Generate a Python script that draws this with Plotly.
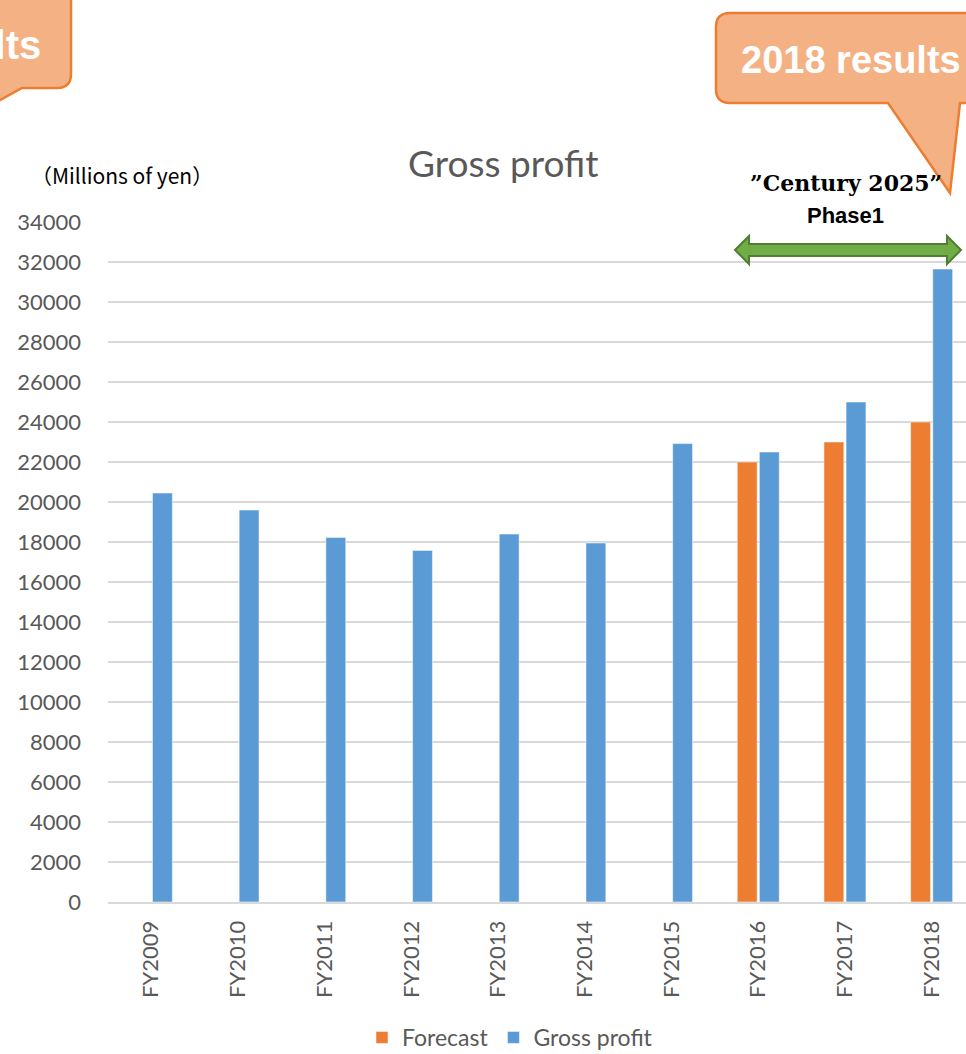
import plotly.graph_objects as go

categories = ["FY2009", "FY2010", "FY2011", "FY2012", "FY2013",
              "FY2014", "FY2015", "FY2016", "FY2017", "FY2018"]
forecast = [None, None, None, None, None, None, None, 22000, 23000, 24000]
gross_profit = [20450, 19600, 18230, 17580, 18400, 17950, 22920, 22500, 25000, 31650]

W, H = 966, 1054
L, R, T, B = 108, 0, 222, 152
PW, PH = W - L - R, H - T - B


def px(x):
    return (x - L) / PW


def py(y):
    return (H - B - y) / PH


def path(cmds):
    out = []
    for cmd, pts in cmds:
        if cmd == "Z":
            out.append("Z")
        elif cmd == "Q":
            out.append("Q " + " ".join(f"{px(a):.5f},{py(b):.5f}" for a, b in pts))
        else:
            for a, b in pts:
                out.append(f"{cmd} {px(a):.5f},{py(b):.5f}")
    return " ".join(out)


fig = go.Figure()
fig.add_trace(go.Bar(x=categories, y=forecast, name="Forecast",
                     marker=dict(color="#ED7D31", line=dict(color="rgba(255,255,255,0.5)", width=1))))
fig.add_trace(go.Bar(x=categories, y=gross_profit, name="Gross profit",
                     marker=dict(color="#5B9BD5", line=dict(color="rgba(255,255,255,0.5)", width=1))))

tick_font = dict(family="Lato", size=22, color="#595959")

fig.update_layout(
    width=W, height=H,
    margin=dict(l=L, r=R, t=T, b=B, pad=0, autoexpand=False),
    plot_bgcolor="white", paper_bgcolor="white",
    barmode="group", bargap=0.49, bargroupgap=0.1,
    showlegend=True,
    legend=dict(orientation="h", x=px(510), y=py(1059), xanchor="center", yanchor="bottom",
                font=dict(family="Lato", size=23, color="#595959"), traceorder="normal",
                borderwidth=0),
    xaxis=dict(range=[-0.5, -0.5 + PW / 86.7], tickangle=-90, tickfont=tick_font,
               showline=True, linecolor="#d9d9d9", linewidth=2, showgrid=False,
               ticks="", ticklabelstandoff=8, automargin=False),
    yaxis=dict(range=[0, 34000], dtick=2000, tickformat="d", tickfont=tick_font, showgrid=True,
               gridcolor="#d9d9d9", gridwidth=1.5, zeroline=False, ticks="",
               ticklabelstandoff=26, showline=False, automargin=False),
)

shapes = []
r = 14
# right callout ("2018 results")
shapes.append(dict(type="path", xref="paper", yref="paper",
                   path=path([("M", [(716 + r, 13)]),
                              ("L", [(1010, 13), (1010, 103), (960, 103), (950, 193), (888, 103), (716 + r, 103)]),
                              ("Q", [(716, 103), (716, 103 - r)]),
                              ("L", [(716, 13 + r)]),
                              ("Q", [(716, 13), (716 + r, 13)]),
                              ("Z", [])]),
                   fillcolor="#F4B183", line=dict(color="#ED7D31", width=2.5), layer="above"))
# left callout (cut off)
shapes.append(dict(type="path", xref="paper", yref="paper",
                   path=path([("M", [(-60, -60)]),
                              ("L", [(71, -60), (71, 88 - r)]),
                              ("Q", [(71, 88), (71 - r, 88)]),
                              ("L", [(22, 88), (-40, 122), (-60, 122)]),
                              ("Z", [])]),
                   fillcolor="#F4B183", line=dict(color="#ED7D31", width=2.5), layer="above"))
# green double arrow
shapes.append(dict(type="path", xref="paper", yref="paper",
                   path=path([("M", [(735, 250)]),
                              ("L", [(749, 236), (749, 244), (947, 244), (947, 236), (961, 250),
                                     (947, 264), (947, 256), (749, 256), (749, 264)]),
                              ("Z", [])]),
                   fillcolor="#70AD47", line=dict(color="#507E32", width=2), layer="above"))
fig.update_layout(shapes=shapes)

ann = []
ann.append(dict(text="Gross profit", x=px(503), y=py(162), xref="paper", yref="paper",
                showarrow=False, xanchor="center", yanchor="middle",
                font=dict(family="Lato", size=37, color="#595959")))
ann.append(dict(text="（Millions of yen）", x=px(122), y=py(175), xref="paper", yref="paper",
                showarrow=False, xanchor="center", yanchor="middle",
                font=dict(family="Noto Sans CJK JP", size=21, color="#000000")))
ann.append(dict(text="<b>”Century 2025”</b>", x=px(846), y=py(183), xref="paper", yref="paper",
                showarrow=False, xanchor="center", yanchor="middle",
                font=dict(family="DejaVu Serif", size=22, color="#000000")))
ann.append(dict(text="<b>Phase1</b>", x=px(845), y=py(215), xref="paper", yref="paper",
                showarrow=False, xanchor="center", yanchor="middle",
                font=dict(family="Liberation Sans", size=22, color="#000000")))
ann.append(dict(text="<b>2018 results</b>", x=px(739), y=py(60), xref="paper", yref="paper",
                showarrow=False, xanchor="left", yanchor="middle",
                font=dict(family="Liberation Sans", size=38, color="#FFFFFF")))
ann.append(dict(text="<b>2017 results</b>", x=px(43), y=py(45), xref="paper", yref="paper",
                showarrow=False, xanchor="right", yanchor="middle",
                font=dict(family="Liberation Sans", size=40, color="#FFFFFF")))
fig.update_layout(annotations=ann)

fig.write_html("out.html", config={"displayModeBar": False},
               post_script="document.body.style.margin='0';document.body.style.overflow='hidden';")
